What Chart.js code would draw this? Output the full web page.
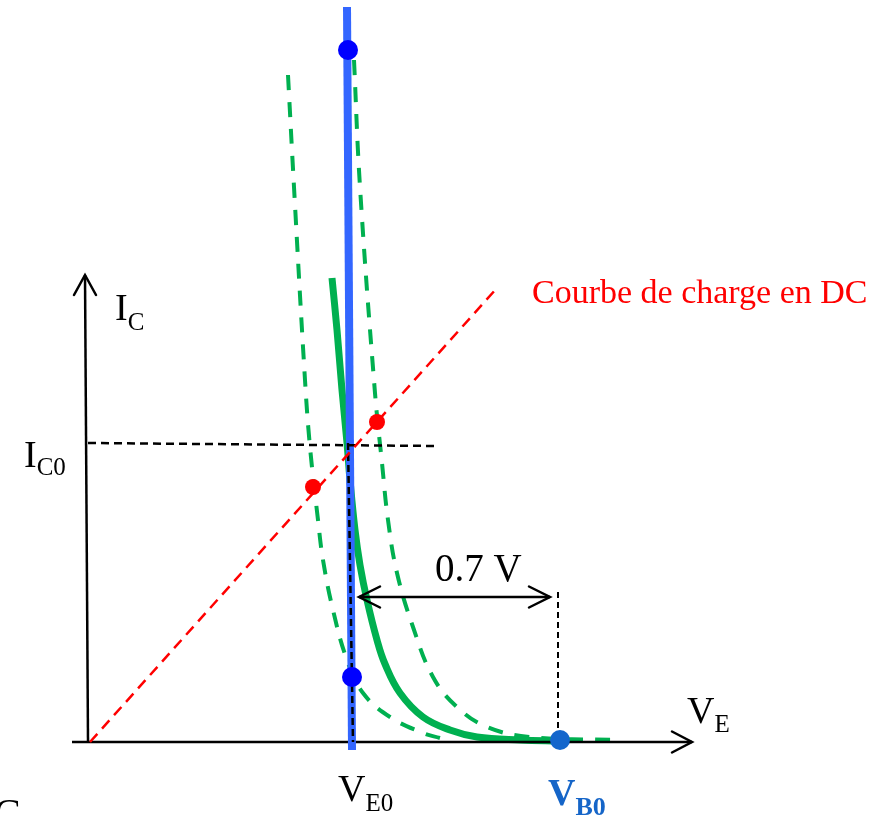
<!DOCTYPE html>
<html>
<head>
<meta charset="utf-8">
<script src="https://cdn.jsdelivr.net/npm/chart.js@4.4.1/dist/chart.umd.min.js"></script>
<style>
  html, body { margin: 0; padding: 0; background: #fff; }
  #wrap { width: 881px; height: 816px; }
</style>
</head>
<body>
<div id="wrap"><canvas id="diagram"></canvas></div>
<script>
// diagram units, origin where the I_C and V_E axes cross
const axisIcX = [0, -3];
const axisIcY = [0, 467];
const axisVeX = [-16, 604];
const axisVeY = [0, 0];

// vertical blue line (V_E0) and its two points
const veLineX = [259, 264];
const veLineY = [735, -8];
const veDotsX = [260, 264];
const veDotsY = [692, 65];
const vbDotX = [472];
const vbDotY = [2];

// DC load line and the two operating points
const chargeX = [2, 409];
const chargeY = [0, 454];
const chargeDotsX = [225, 289];
const chargeDotsY = [255, 320];

// diode characteristic (solid) and its two shifted copies (dashed)
const diodeX = [244, 249, 254, 259, 262, 267, 272, 279, 289, 297, 312, 335, 362, 389, 432, 472];
const diodeY = [464, 412, 352, 299, 262, 212, 177, 142, 102, 78, 49, 25, 12, 5, 2, 1];
const diodeLoX = [200, 206, 217, 222, 230, 235, 245, 259, 275, 302, 335, 352];
const diodeLoY = [667, 555, 362, 295, 222, 182, 132, 82, 49, 25, 9, 4];
const diodeHiX = [266, 272, 287, 294, 300, 309, 325, 345, 369, 399, 442, 527];
const diodeHiY = [682, 555, 349, 279, 222, 169, 115, 65, 35, 15, 5, 2];

// guide lines
const ic0X = [0, 349];
const ic0Y = [299, 296];
const ve0GuideX = [260, 265];
const ve0GuideY = [299, 0];
const vb0GuideX = [470, 470];
const vb0GuideY = [150, 0];
const gapX = [271, 462];
const gapY = [145, 145];

const pts = (xs, ys) => xs.map((x, i) => ({ x: x, y: ys[i] }));

const GREEN = '#00b050';

function line(xs, ys, color, width, dash, order, tension) {
  return {
    data: pts(xs, ys),
    showLine: true,
    borderColor: color,
    borderWidth: width,
    borderDash: dash || [],
    pointRadius: 0,
    tension: tension || 0,
    borderCapStyle: 'butt',
    order: order
  };
}

function dots(xs, ys, color, r, order) {
  return {
    data: pts(xs, ys),
    showLine: false,
    pointRadius: r,
    pointBackgroundColor: color,
    pointBorderWidth: 0,
    order: order
  };
}

function chevron(ctx, tx, ty, dx, dy, len, half) {
  const nx = -dy, ny = dx;
  ctx.beginPath();
  ctx.moveTo(tx - dx * len + nx * half, ty - dy * len + ny * half);
  ctx.lineTo(tx, ty);
  ctx.lineTo(tx - dx * len - nx * half, ty - dy * len - ny * half);
  ctx.stroke();
}

function label(ctx, x, y, main, sub, opts) {
  const size = opts.size || 38;
  const subSize = opts.subSize || 25;
  const weight = opts.bold ? 'bold ' : '';
  ctx.fillStyle = opts.color || '#000';
  ctx.textBaseline = 'alphabetic';
  ctx.textAlign = 'left';
  ctx.font = weight + size + 'px "Liberation Serif"';
  ctx.fillText(main, x, y);
  if (sub) {
    const w = ctx.measureText(main).width;
    ctx.font = weight + subSize + 'px "Liberation Serif"';
    ctx.fillText(sub, x + w, y + (opts.drop || 10));
  }
}

const decorations = {
  id: 'decorations',
  afterDatasetsDraw(chart) {
    const ctx = chart.ctx;
    const sx = chart.scales.x, sy = chart.scales.y;
    const X = v => sx.getPixelForValue(v);
    const Y = v => sy.getPixelForValue(v);
    ctx.save();
    ctx.strokeStyle = '#000';
    ctx.lineWidth = 2.5;
    ctx.lineCap = 'round';
    ctx.lineJoin = 'miter';
    // axis arrows
    chevron(ctx, X(axisIcX[1]), Y(axisIcY[1]), 0, -1, 20, 11);
    chevron(ctx, X(axisVeX[1]), Y(axisVeY[1]), 1, 0, 20, 10.5);
    // 0.7 V double arrow
    chevron(ctx, X(gapX[0]), Y(gapY[0]), -1, 0, 21, 10.5);
    chevron(ctx, X(gapX[1]), Y(gapY[1]), 1, 0, 21, 10.5);

    label(ctx, X(27), Y(422), 'I', 'C', {});
    label(ctx, X(-64), Y(275), 'I', 'C0', { drop: 8 });
    label(ctx, X(250), Y(-59), 'V', 'E0', {});
    label(ctx, X(460), Y(-63), 'V', 'B0', { bold: true, color: '#1565c8', subSize: 26 });
    label(ctx, X(599), Y(19), 'V', 'E', { drop: 9 });
    label(ctx, X(347), Y(161), '0.7 V', null, { size: 39 });
    label(ctx, X(444), Y(439), 'Courbe de charge en DC', null, { size: 34, color: '#ff0000' });
    label(ctx, X(-94), Y(-84), 'C', null, { size: 40 });
    ctx.restore();
  }
};

new Chart(document.getElementById('diagram'), {
  type: 'scatter',
  data: {
    datasets: [
      line(diodeLoX, diodeLoY, GREEN, 4, [15, 12], 9, 0.4),
      line(diodeHiX, diodeHiY, GREEN, 4, [15, 12], 9, 0.4),
      line(diodeX, diodeY, GREEN, 7, [], 8, 0.4),
      line(axisIcX, axisIcY, '#000', 2.5, [], 7),
      line(axisVeX, axisVeY, '#000', 2.5, [], 7),
      line(veLineX, veLineY, '#3366ff', 8, [], 6),
      line(ic0X, ic0Y, '#000', 2.5, [8, 5], 5),
      line(ve0GuideX, ve0GuideY, '#000', 2.5, [7, 4], 5),
      line(vb0GuideX, vb0GuideY, '#000', 2, [6, 4], 5),
      line(gapX, gapY, '#000', 2.5, [], 5),
      line(chargeX, chargeY, '#ff0000', 2.5, [11, 7], 4),
      dots(chargeDotsX, chargeDotsY, '#ff0000', 8, 2),
      dots(veDotsX, veDotsY, '#0000ff', 10, 1),
      dots(vbDotX, vbDotY, '#1466cc', 10, 1)
    ]
  },
  options: {
    responsive: true,
    maintainAspectRatio: false,
    animation: false,
    layout: { padding: 0, autoPadding: false },
    scales: {
      x: { type: 'linear', min: -88, max: 793, display: false },
      y: { type: 'linear', min: -74, max: 742, display: false }
    },
    plugins: {
      legend: { display: false },
      tooltip: { enabled: false }
    },
    events: []
  },
  plugins: [decorations]
});
</script>
</body>
</html>
